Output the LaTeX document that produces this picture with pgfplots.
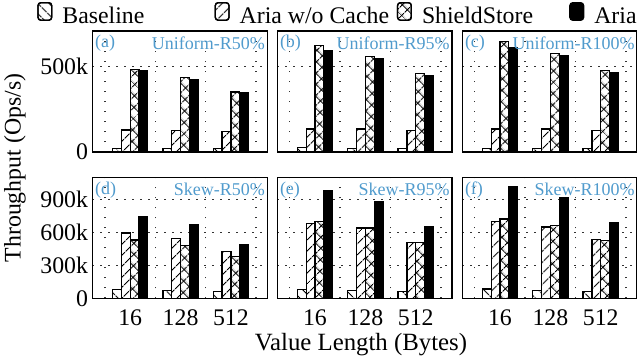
\documentclass[border=0pt]{standalone}
\usepackage{fontspec}
\setmainfont{Liberation Serif}
\usepackage{pgfplots}
\pgfplotsset{compat=1.18}
\usetikzlibrary{patterns.meta}
\definecolor{ttl}{RGB}{80,155,205}
\newcommand{\lfont}{\fontsize{11.9pt}{13.5pt}\selectfont}
\tikzset{
  bB/.style={draw=black, line width=0.65pt, fill=white, postaction={pattern={Lines[angle=-45,distance=4pt,line width=0.5pt]}}},
  bW/.style={draw=black, line width=0.65pt, fill=white, postaction={pattern={Lines[angle=45,distance=4pt,line width=0.5pt]}}},
  bS/.style={draw=black, line width=0.65pt, fill=white, postaction={pattern={Hatch[angle=45,distance=4pt,line width=0.5pt]}}},
  bA/.style={draw=black, line width=0.65pt, fill=black},
}
\pgfplotsset{
  panel/.style={
    scale only axis, width=87.4pt, height=60.5pt, anchor=south west,
    xmin=-0.75, xmax=2.72, ymin=0,
    ybar=0pt, bar width=0.175,
    axis line style={line width=0.6pt},
    xtick={0,1,2}, xticklabels={16,128,512},
    major tick length=0pt, minor tick length=0pt,
    minor xtick={-0.5,0.5,1.5,2.5}, xminorgrids=true, ymajorgrids=true,
    minor grid style={black!80, line width=0.7pt, dash pattern=on 0.7pt off 4.3pt},
    major grid style={black!80, line width=0.7pt, dash pattern=on 0.7pt off 3.3pt},
    tick label style={font=\lfont},
    yticklabel style={inner xsep=2pt},
    xticklabel style={yshift=-2pt},
    legend image code/.code={\draw[##1, rounded corners=1.5pt] (0pt,-1.6pt) rectangle (6.9pt,7.2pt);},
  },
  toprow/.style={panel, ymax=710, ytick={0,500}, yticklabels={0,500k}, xticklabels={}},
  botrow/.style={panel, ymax=1100, ytick={0,300,600,900}, yticklabels={0,300k,600k,900k}},
  noy/.style={yticklabels={}},
}
\newcommand{\ptitle}[2]{%
  \node[anchor=north west, text=ttl, font=\fontsize{9pt}{10pt}\selectfont, inner xsep=1.2pt, inner ysep=2pt] at (rel axis cs:0,1) {#1};
  \node[anchor=north east, text=ttl, font=\fontsize{9pt}{10pt}\selectfont, inner xsep=1pt, inner ysep=2.5pt] at (rel axis cs:1,1) {#2};
}
\begin{document}
\begin{tikzpicture}
\useasboundingbox (0,0) rectangle (318.5pt,180pt);
% (a)
\begin{axis}[toprow, at={(46.2pt,104pt)},
  legend columns=4, legend cell align=left,
  legend style={at={(axis description cs:0,1)}, anchor=west, xshift=-27.55pt, yshift=8.3pt,
    draw=none, fill=none, inner sep=0pt, outer sep=0pt, nodes={inner sep=0pt}, font=\lfont,
    /tikz/every odd column/.append style={column sep=5pt}}]
\addplot[bB] coordinates {(0,22) (1,22) (2,20)};
\addplot[bW] coordinates {(0,129) (1,127) (2,121)};
\addplot[bS] coordinates {(0,485) (1,438) (2,352)};
\addplot[bA] coordinates {(0,475) (1,424) (2,346)};
\legend{\makebox[76.1pt][l]{Baseline}, \makebox[78.6pt][l]{Aria w/o Cache}, \makebox[73.6pt][l]{ShieldStore}, Aria}
\ptitle{(a)}{Uniform-R50\%}
\end{axis}
% (b)
\begin{axis}[toprow, noy, at={(138.6pt,104pt)}]
\addplot[bB] coordinates {(0,25) (1,22) (2,22)};
\addplot[bW] coordinates {(0,135) (1,135) (2,127)};
\addplot[bS] coordinates {(0,625) (1,559) (2,459)};
\addplot[bA] coordinates {(0,596) (1,547) (2,449)};
\ptitle{(b)}{Uniform-R95\%}
\end{axis}
% (c)
\begin{axis}[toprow, noy, at={(231.1pt,104pt)}]
\addplot[bB] coordinates {(0,22) (1,20) (2,21)};
\addplot[bW] coordinates {(0,135) (1,135) (2,127)};
\addplot[bS] coordinates {(0,647) (1,578) (2,479)};
\addplot[bA] coordinates {(0,615) (1,563) (2,467)};
\ptitle{(c)}{Uniform-R100\%}
\end{axis}
% (d)
\begin{axis}[botrow, at={(46.2pt,30.85pt)}]
\addplot[bB] coordinates {(0,82) (1,73) (2,61)};
\addplot[bW] coordinates {(0,594) (1,545) (2,427)};
\addplot[bS] coordinates {(0,530) (1,482) (2,379)};
\addplot[bA] coordinates {(0,742) (1,670) (2,488)};
\ptitle{(d)}{Skew-R50\%}
\end{axis}
% (e)
\begin{axis}[botrow, noy, at={(138.6pt,30.85pt)}]
\addplot[bB] coordinates {(0,82) (1,73) (2,61)};
\addplot[bW] coordinates {(0,682) (1,639) (2,509)};
\addplot[bS] coordinates {(0,697) (1,639) (2,509)};
\addplot[bA] coordinates {(0,976) (1,879) (2,648)};
\ptitle{(e)}{Skew-R95\%}
\end{axis}
% (f)
\begin{axis}[botrow, noy, at={(231.1pt,30.85pt)}]
\addplot[bB] coordinates {(0,85) (1,70) (2,64)};
\addplot[bW] coordinates {(0,697) (1,648) (2,533)};
\addplot[bS] coordinates {(0,721) (1,661) (2,524)};
\addplot[bA] coordinates {(0,1018) (1,918) (2,685)};
\ptitle{(f)}{Skew-R100\%}
\end{axis}
\node[rotate=90, font=\lfont, inner sep=0pt] at (7.5pt,96pt) {Throughput (Ops/s)};
\node[anchor=base, font=\fontsize{12.4pt}{14pt}\selectfont, inner sep=0pt] at (180.5pt,5pt) {Value Length (Bytes)};
\end{tikzpicture}
\end{document}
